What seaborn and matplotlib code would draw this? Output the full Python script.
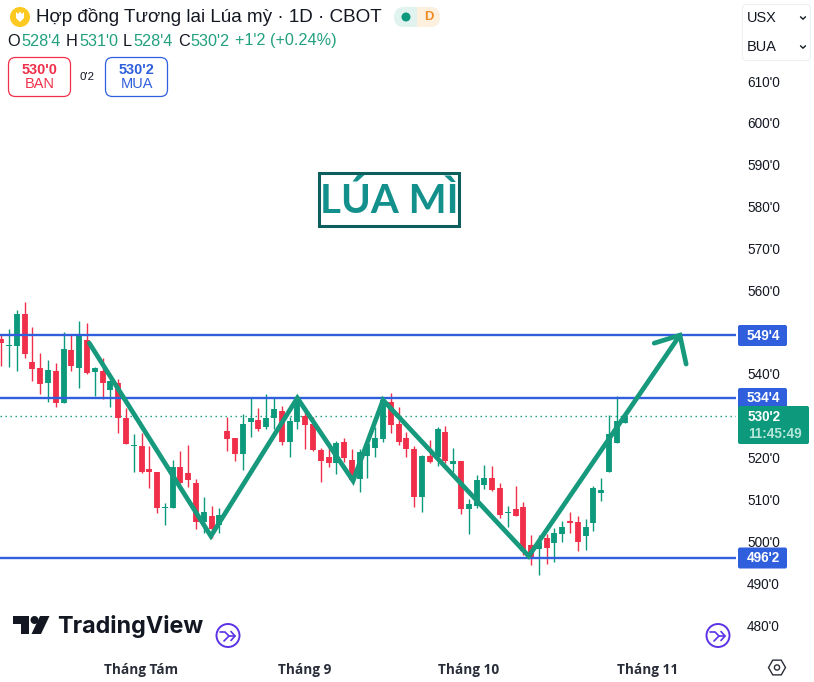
import numpy as np
import pandas as pd
import matplotlib
matplotlib.use("Agg")
import matplotlib.pyplot as plt
from matplotlib.patches import Circle, FancyBboxPatch, Polygon, Rectangle
from matplotlib.transforms import ScaledTranslation
import seaborn as sns

opens = [548.6,547.0,547.0,554.6,543.0,541.6,538.2,540.9,533.4,545.9,541.7,548.3,540.6,540.9,536.5,538.2,529.6,523.1,523.0,517.5,
         516.8,508.2,508.3,517.9,516.5,514.2,504.9,506.3,504.1,526.6,524.9,521.0,528.8,529.2,527.6,529.6,531.3,524.1,528.8,530.3,
         528.4,522.0,520.3,518.9,523.9,519.8,515.2,520.7,522.5,524.7,533.5,528.2,524.9,522.2,510.9,520.6,520.3,526.3,518.8,519.4,
         507.9,508.8,513.8,515.3,512.9,506.9,507.9,508.4,499.3,498.3,501.0,499.9,502.1,505.1,504.8,501.6,504.7,511.9,516.9,523.8,528.5]
highs = [549.9,551.1,555.5,557.4,551.4,545.2,543.5,542.8,550.2,549.5,552.8,552.3,542.0,544.0,538.8,539.0,532.0,525.8,526.1,523.0,
         516.9,509.5,519.8,521.8,523.2,515.1,510.8,508.7,508.1,530.0,524.9,530.7,534.4,532.0,535.4,534.4,532.7,530.0,534.4,532.0,
         530.0,522.5,523.3,524.3,524.9,522.2,522.4,524.1,527.5,534.0,535.6,532.3,526.4,523.0,520.8,524.5,527.5,527.8,522.5,519.5,
         510.3,516.1,518.4,518.2,514.1,508.7,513.5,509.6,501.7,501.8,501.9,503.5,505.1,507.2,506.4,505.5,513.5,515.5,530.4,535.0,531.0]
lows = [542.1,542.0,541.0,544.1,538.6,535.5,533.6,532.3,533.2,541.0,537.0,540.2,535.0,534.2,532.4,526.1,523.4,516.9,516.5,513.1,
        507.1,504.1,508.2,514.1,513.3,503.3,502.3,501.0,502.2,521.9,519.5,517.3,525.1,526.7,527.0,527.2,523.3,520.3,527.2,522.4,
        521.9,514.5,518.1,516.4,519.3,514.7,512.1,515.5,520.3,524.1,526.2,523.2,520.5,508.5,507.3,519.0,518.2,518.9,516.9,506.8,
        502.0,508.3,512.7,512.2,505.9,503.7,506.3,496.9,494.6,492.2,494.8,495.3,500.2,502.2,498.0,498.2,502.6,509.9,516.9,523.8,528.5]
closes = [547.7,547.2,554.6,544.9,541.5,537.9,541.1,533.4,546.1,542.2,549.5,540.4,541.6,538.2,538.5,529.6,523.6,523.3,516.7,516.7,
          508.1,508.4,518.1,514.3,515.0,504.9,507.2,503.1,506.5,524.8,521.2,528.2,529.6,527.2,529.6,531.8,524.1,528.9,534.0,528.1,
          522.0,519.4,519.0,523.7,520.2,515.0,521.5,523.4,524.9,534.0,528.1,524.1,522.4,510.8,520.6,519.3,527.0,519.5,519.4,507.9,
          509.1,514.8,515.3,512.5,506.6,507.2,506.4,497.9,496.3,500.2,498.7,502.3,503.6,504.6,500.2,503.6,512.9,512.4,526.0,528.9,530.25]

price_ticks = [480, 490, 500, 510, 520, 540, 560, 570, 580, 590, 600, 610]
month_labels = ["Tháng Tám", "Tháng 9", "Tháng 10", "Tháng 11"]
month_days = [18, 39, 60, 83]
level_prices = [549.5, 534.5, 496.25]
last_price = 530.25
trend_days = [11.3, 26.9, 38.0, 45.15, 49.0, 67.7, 87.1]
trend_prices = [547.6, 501.5, 534.5, 514.7, 534.0, 496.7, 549.5]
head_days = [83.8, 87.1, 87.9]
head_prices = [547.6, 549.5, 542.6]

RED, GREEN, TREND, BLUE = "#f0304a", "#0d997c", "#16997c", "#2f5fdc"
DARK = "#131722"

sns.set_theme(style="white")
plt.rcParams["font.family"] = ["Liberation Sans", "DejaVu Sans"]

fig = plt.figure(figsize=(8.14, 6.82), dpi=100, facecolor="white")
ax = fig.add_axes([0, 34 / 682, 736 / 814, 648 / 682])

days = np.arange(len(opens))
direction = ["up" if c >= o else "down" for o, c in zip(opens, closes)]
df = pd.DataFrame(dict(day=days, o=opens, h=highs, l=lows, c=closes, d=direction))
palette = {"up": GREEN, "down": RED}

wicks = pd.concat([df.assign(price=df.h), df.assign(price=df.l)]).sort_values("day", kind="stable")
bodies = pd.concat([df.assign(price=df.o), df.assign(price=df.c)]).sort_values("day", kind="stable")
kw = dict(x="day", y="price", hue="d", units="day", estimator=None, palette=palette,
          legend=False, ax=ax, sort=False, solid_capstyle="butt")
sns.lineplot(data=wicks, linewidth=1.0, **kw)
sns.lineplot(data=bodies, linewidth=4.2, **kw)

for lv in level_prices:
    ax.axhline(lv, color=BLUE, lw=1.7, zorder=3)
ax.axhline(last_price, color=GREEN, lw=1.0, ls=(0, (1, 2.6)), zorder=1)

trend = pd.DataFrame(dict(day=trend_days, price=trend_prices))
head = pd.DataFrame(dict(day=head_days, price=head_prices))
for d in (trend, head):
    sns.lineplot(data=d, x="day", y="price", estimator=None, sort=False, color=TREND,
                 linewidth=3.4, ax=ax, legend=False, zorder=4, solid_joinstyle="miter")

ax.set_xlim(-0.167, 94.3)
ax.set_ylim(474.76, 629.6)
ax.set_xlabel("")
ax.set_ylabel("")
ax.yaxis.tick_right()
ax.set_yticks(price_ticks, [f"{p}'0" for p in price_ticks], fontsize=9.8, color=DARK)
ax.set_xticks(month_days, month_labels, fontsize=9.8, color="#2a2e39", fontweight="bold",
              family="Open Sans")
ax.tick_params(axis="y", length=0, pad=8.0)
ax.tick_params(axis="x", length=0, pad=10.8)
for lbl in ax.get_yticklabels():
    lbl.set_transform(lbl.get_transform() + ScaledTranslation(0, 1 / 100, fig.dpi_scale_trans))
for s in ax.spines.values():
    s.set_visible(False)

# overlay in pixel coordinates for the interface furniture
ov = fig.add_axes([0, 0, 1, 1], zorder=5)
ov.set_xlim(0, 814)
ov.set_ylim(682, 0)
ov.axis("off")
ov.patch.set_alpha(0)


def txt(x, y, s, size, color=DARK, ha="left", **k):
    ov.text(x, y, s, fontsize=size * 0.72, color=color, ha=ha, va="center", **k)


def rbox(x0, y0, x1, y1, r, fc, ec="none", lw=1.0, **k):
    ov.add_patch(FancyBboxPatch((x0 + r, y0 + r), x1 - x0 - 2 * r, y1 - y0 - 2 * r,
                                boxstyle=f"round,pad={r}", fc=fc, ec=ec, lw=lw, **k))


# header
ov.add_patch(Circle((20, 17), 10, fc="#fbc91f", ec="none"))
ov.add_patch(Polygon([(16, 12), (18, 14), (20, 11.5), (22, 14), (24, 12), (24, 18), (20, 22), (16, 18)], fc="white", ec="none"))
txt(36, 17, "Hợp đồng Tương lai Lúa mỳ · 1D · CBOT", 18.9)
rbox(394, 7, 440, 27, 10, "#e0f3ef")
ov.add_patch(Rectangle((417, 7.3), 13, 19.4, fc="#fdf0df", ec="none"))
rbox(420, 7, 440, 27, 10, "#fdf0df")
ov.add_patch(Circle((406, 17), 4.5, fc="#0d997c", ec="none"))
txt(429, 17, "D", 13, "#f08a24", ha="center", fontweight="bold")

VAL = "#22a07f"
for x, s, c in [(7, "O", DARK), (21, "528'4", VAL), (66, "H", DARK), (79, "531'0", VAL),
                (123, "L", DARK), (133, "528'4", VAL), (178, "C", DARK), (190, "530'2", VAL),
                (235, "+1'2 (+0.24%)", VAL)]:
    txt(x, 41, s, 16.2, c)

rbox(8.5, 57.5, 70.5, 96.5, 7, "white", RED, 0.9)
txt(39.5, 69.5, "530'0", 14.5, RED, ha="center", fontweight="bold")
txt(39.5, 84.5, "BAN", 14.5, RED, ha="center")
txt(87.5, 77, "0'2", 11.5, DARK, ha="center")
rbox(105.5, 57.5, 167.5, 96.5, 7, "white", BLUE, 0.9)
txt(136.5, 69.5, "530'2", 14.5, BLUE, ha="center", fontweight="bold")
txt(136.5, 84.5, "MUA", 14.5, BLUE, ha="center")

# top right selectors
rbox(742.5, 4.5, 810.5, 60.5, 4, "white", "#eef0f3", 0.8)
txt(747, 18, "USX", 14.5)
txt(747, 47, "BUA", 14.5)
for yy in (18, 47):
    ov.plot([800.5, 803, 805.5], [yy - 1.2, yy + 1.2, yy - 1.2], color=DARK, lw=1.0)

# title box
ov.add_patch(Rectangle((319, 173), 140, 53, fc="white", ec="#0c5f5c", lw=2.2, zorder=3))
ov.text(389, 201, "LÚA MÌ", fontsize=29, color="#14908c", ha="center", va="center",
        fontweight="bold", family="Lato", zorder=4)

# price labels
for yy, s in [(335.5, "549'4"), (398.5, "534'4"), (558, "496'2")]:
    rbox(738, yy - 10.5, 787, yy + 10.5, 2, BLUE)
    txt(763, yy, s, 13.5, "white", ha="center", fontweight="bold")
rbox(738, 406, 809, 444, 2, GREEN)
txt(748, 417, "530'2", 13.5, "white", fontweight="bold")
txt(748, 434, "11:45:49", 13.5, "#b6e6da", fontweight="bold")

# TradingView logo
ov.add_patch(Polygon([(13, 616), (29, 616), (29, 634), (21, 634), (21, 624), (13, 624)], fc="#131722", ec="none"))
ov.add_patch(Circle((34.5, 620), 4, fc="#131722", ec="none"))
ov.add_patch(Polygon([(40, 616), (49.5, 616), (41, 634), (31.5, 634)], fc="#131722", ec="none"))
ov.text(57, 626, "TradingView", fontsize=16.8, color="#131722", va="center",
        fontweight="bold", family="Inter")

# round arrow buttons
for cx in (228, 718):
    ov.add_patch(Circle((cx, 635.5), 11.5, fc="white", ec="#5b32e6", lw=1.4))
    ov.plot([cx - 8, cx - 3, cx + 1, cx - 4], [632, 632, 636, 641], color="#5b32e6", lw=1.2)
    ov.plot([cx + 1, cx + 7], [636, 636], color="#5b32e6", lw=1.2)
    ov.plot([cx + 3, cx + 7, cx + 3], [631.5, 636, 640.5], color="#5b32e6", lw=1.2)

# settings hexagon
ang = np.deg2rad(np.arange(0, 360, 60))
ov.add_patch(Polygon(np.c_[777 + 8.5 * np.cos(ang), 667.5 + 8.5 * np.sin(ang)], fc="none", ec="#2a2e39", lw=1.0))
ov.add_patch(Circle((777, 667.5), 2.6, fc="none", ec="#2a2e39", lw=1.0))

fig.savefig("out.png", dpi=100)
